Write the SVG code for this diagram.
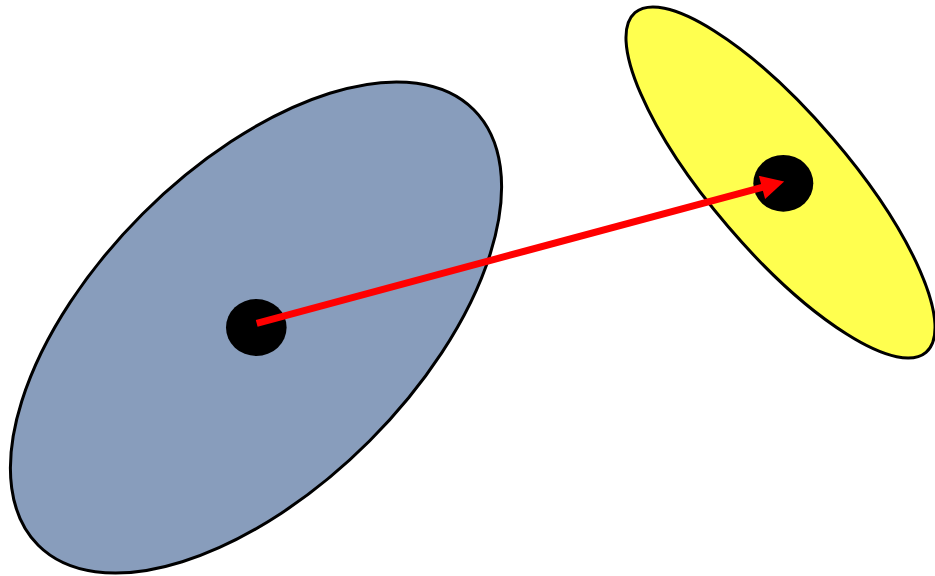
<svg xmlns="http://www.w3.org/2000/svg" width="935" height="576" viewBox="0 0 935 576">
  <style>
    .region { stroke: #000; stroke-width: 3; }
    .dot { fill: #000; }
    .vec { stroke: #ff0000; stroke-width: 7; fill: none; }
  </style>
  <defs>
    <marker id="arrow" markerUnits="userSpaceOnUse" markerWidth="24" markerHeight="24" viewBox="0 0 22 23" refX="2" refY="11.5" orient="auto">
      <path d="M0,0 L22,11.5 L0,23 z" fill="#ff0000"/>
    </marker>
  </defs>
  <rect width="935" height="576" fill="#fff"/>
  <g id="blue-region">
    <ellipse class="region" cx="256" cy="327.5" rx="308" ry="160.5" fill="#889dbc" transform="rotate(-45 256 327.5)"/>
  </g>
  <g id="yellow-region">
    <ellipse class="region" cx="780.5" cy="182.5" rx="223.6" ry="68.5" fill="#ffff4f" transform="rotate(49.4 780.5 182.5)"/>
  </g>
  <g id="blue-point">
    <ellipse class="dot" cx="256.3" cy="327.5" rx="30.3" ry="28.5"/>
  </g>
  <g id="yellow-point">
    <ellipse class="dot" cx="783.3" cy="183.3" rx="30" ry="28.4"/>
  </g>
  <g id="connectors">
    <line class="vec" x1="256.7" y1="323.3" x2="764" y2="186.9" marker-end="url(#arrow)"/>
  </g>
</svg>
